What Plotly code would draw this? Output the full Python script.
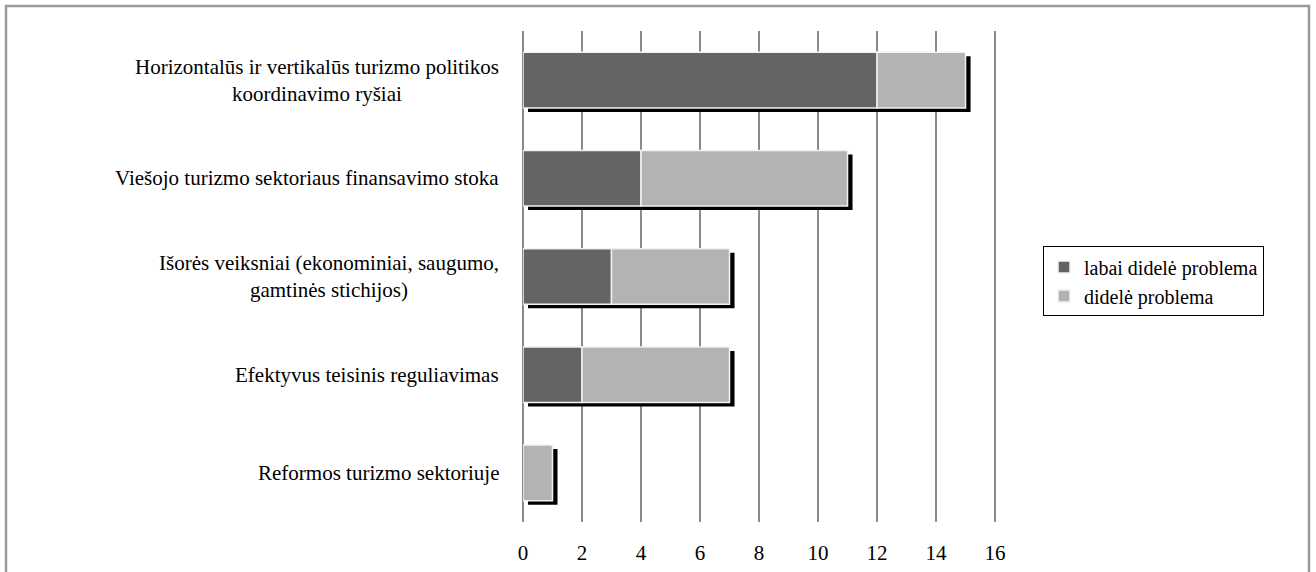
import plotly.graph_objects as go

# Dados
categorias = [
    'Horizontalūs ir vertikalūs turizmo politikos<br>koordinavimo ryšiai',
    'Viešojo turizmo sektoriaus finansavimo stoka',
    'Išorės veiksniai (ekonominiai, saugumo,<br>gamtinės stichijos)',
    'Efektyvus teisinis reguliavimas',
    'Reformos turizmo sektoriuje',
]
labai_didele = [12, 4, 3, 2, 0]
didele = [3, 7, 4, 5, 1]
ticks_x = [0, 2, 4, 6, 8, 10, 12, 14, 16]

serif = 'Liberation Serif'
W, H = 1316, 572
x_max = 16.1
ml, mt, mb = 523, 31, 50
pw = round(472 * x_max / 16)
mr = W - ml - pw
ph = H - mt - mb

largura = 0.566
# deslocamento da sombra em unidades dos eixos (~5px x, ~4px y)
dx = 5 * x_max / pw
dy = 4 * len(categorias) / ph

totais = [a + b for a, b in zip(labai_didele, didele)]

fig = go.Figure()

# sombra preta
fig.add_trace(go.Bar(
    y=categorias, x=totais, base=[dx] * len(totais), orientation='h',
    width=largura, offset=-largura / 2 + dy,
    marker=dict(color='black', line=dict(width=0)),
    showlegend=False, hoverinfo='skip'
))

fig.add_trace(go.Bar(
    y=categorias, x=labai_didele, base=[0] * len(totais), orientation='h',
    width=largura, offset=-largura / 2,
    name='labai didelė problema',
    marker=dict(color='#646464', line=dict(color='#f2f2f2', width=1.5))
))

fig.add_trace(go.Bar(
    y=categorias, x=didele, base=labai_didele, orientation='h',
    width=largura, offset=-largura / 2,
    name='didelė problema',
    marker=dict(color='#b3b3b3', line=dict(color='#f2f2f2', width=1.5))
))

# rótulos das categorias
for c in categorias:
    fig.add_annotation(
        x=0, xref='paper', y=c, yref='y', xanchor='right', xshift=-22,
        align='center', text=c, showarrow=False,
        font=dict(family=serif, size=21, color='black')
    )

# moldura externa
fig.add_shape(
    type='rect', xref='paper', yref='paper',
    x0=(6 - ml) / pw, x1=(1309 - ml) / pw,
    y0=-(mb + 10) / ph, y1=(ph + mt - 6) / ph,
    line=dict(color='#999999', width=2.5)
)

fig.update_layout(
    width=W, height=H,
    margin=dict(l=ml, r=mr, t=mt, b=mb, autoexpand=False),
    barmode='overlay',
    plot_bgcolor='white', paper_bgcolor='white',
    font=dict(family=serif, size=21, color='black'),
    legend=dict(
        x=(1043 - ml) / pw, xanchor='left', y=0.49, yanchor='middle',
        bordercolor='black', borderwidth=1,
        font=dict(family=serif, size=20, color='black'),
        traceorder='normal'
    ),
    showlegend=True
)

fig.update_xaxes(
    range=[0, x_max], tickvals=ticks_x, showgrid=True, gridcolor='#8a8a8a', gridwidth=2,
    zeroline=True, zerolinecolor='#8a8a8a', zerolinewidth=2, showline=False,
    ticks='', ticklabelstandoff=16, tickfont=dict(family=serif, size=21)
)
fig.update_yaxes(
    categoryorder='array', categoryarray=categorias, range=[len(categorias) - 0.5, -0.5],
    showticklabels=False, showgrid=False, zeroline=False, showline=False
)

# sem margem da página, para a figura começar no canto
fig.write_html('out.html', config={'displayModeBar': False},
               post_script="document.body.style.margin='0';")
